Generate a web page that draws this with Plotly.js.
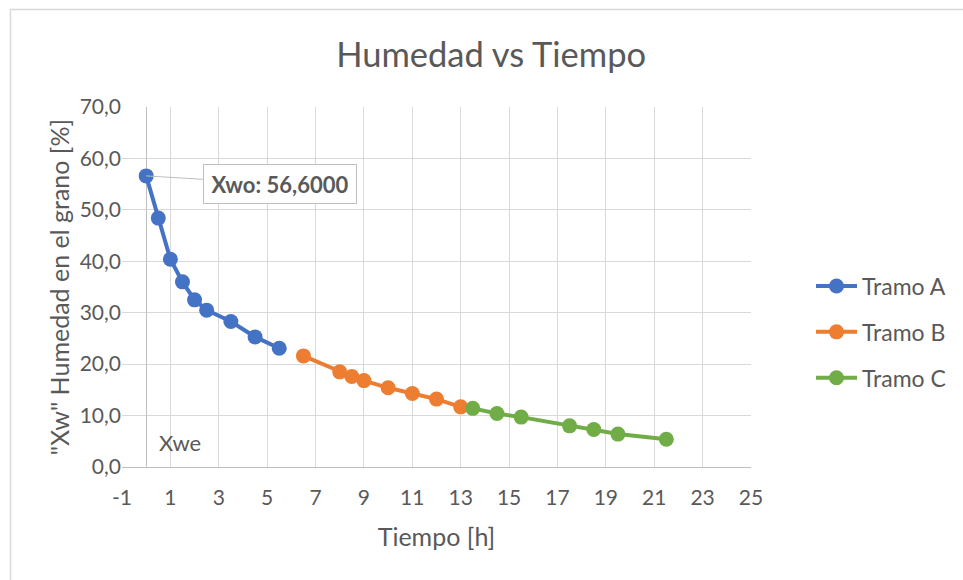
<!DOCTYPE html>
<html>
<head>
<meta charset="utf-8">
<script src="https://cdn.plot.ly/plotly-3.0.1.min.js"></script>
<style>
html,body{margin:0;padding:0;background:#fff;}
#chart{width:963px;height:580px;}
</style>
</head>
<body>
<div id="chart"></div>
<script>
// Data
const tramoA_x = [0, 0.5, 1, 1.5, 2, 2.5, 3.5, 4.5, 5.5];
const tramoA_y = [56.6, 48.4, 40.4, 36.0, 32.5, 30.5, 28.3, 25.3, 23.1];
const tramoB_x = [6.5, 8, 8.5, 9, 10, 11, 12, 13];
const tramoB_y = [21.6, 18.5, 17.6, 16.8, 15.4, 14.3, 13.2, 11.7];
const tramoC_x = [13.5, 14.5, 15.5, 17.5, 18.5, 19.5, 21.5];
const tramoC_y = [11.4, 10.4, 9.7, 8.0, 7.3, 6.4, 5.4];
const seriesNames = ["Tramo A", "Tramo B", "Tramo C"];
const xTickVals = [-1, 1, 3, 5, 7, 9, 11, 13, 15, 17, 19, 21, 23, 25];
const xTickText = ["-1", "1", "3", "5", "7", "9", "11", "13", "15", "17", "19", "21", "23", "25"];
const xwoLabel = "Xwo: 56,6000";
const xweLabel = "Xwe";

const colors = ["#4472C4", "#ED7D31", "#70AD47"];
const FONT = "Lato, 'Open Sans', sans-serif";
const TXT = "#595959";

function mk(x, y, i) {
  return {
    x: x, y: y, name: seriesNames[i], type: "scatter", mode: "lines+markers",
    legendgroup: "g" + i,
    line: {color: colors[i], width: 4},
    marker: {color: colors[i], size: 15},
    cliponaxis: false
  };
}

const data = [
  mk(tramoA_x, tramoA_y, 0),
  mk(tramoB_x, tramoB_y, 1),
  mk(tramoC_x, tramoC_y, 2)
];

const layout = {
  width: 963, height: 580,
  margin: {l: 122, r: 212, t: 107, b: 113},
  paper_bgcolor: "#fff", plot_bgcolor: "#fff",
  separators: ",.",
  font: {family: FONT, color: TXT},
  title: {
    text: "Humedad vs Tiempo",
    font: {family: FONT, size: 34.5, color: TXT},
    x: 0.51, xref: "container", xanchor: "center",
    y: 0.905, yref: "container", yanchor: "middle"
  },
  xaxis: {
    range: [-1, 25],
    tickvals: xTickVals, ticktext: xTickText,
    showgrid: true, gridcolor: "#d9d9d9", gridwidth: 1,
    zeroline: true, zerolinecolor: "#bfbfbf", zerolinewidth: 1,
    showline: false, ticks: "",
    ticklabelstandoff: 16,
    tickfont: {family: FONT, size: 21, color: TXT},
    title: {text: "Tiempo [h]", font: {family: FONT, size: 25, color: TXT}, standoff: 20},
    fixedrange: true
  },
  yaxis: {
    range: [0, 70], dtick: 10, tick0: 0,
    tickformat: ".1f",
    showgrid: true, gridcolor: "#d9d9d9", gridwidth: 1,
    zeroline: true, zerolinecolor: "#bfbfbf", zerolinewidth: 1,
    showline: false, ticks: "",
    tickfont: {family: FONT, size: 21, color: TXT},
    title: {text: "\"Xw\" Humedad en el grano [%]", font: {family: FONT, size: 25, color: TXT}, standoff: 2},
    fixedrange: true
  },
  legend: {
    x: (811 - 122) / 629, xanchor: "left", y: 0.375, yanchor: "middle",
    font: {family: FONT, size: 23, color: TXT},
    itemwidth: 41,
    tracegroupgap: 13,
    bgcolor: "rgba(0,0,0,0)"
  },
  annotations: [
    {
      x: 0, y: 56.6, xref: "x", yref: "y",
      text: "<b>" + xwoLabel + "</b>",
      showarrow: true, arrowhead: 0, arrowwidth: 1, arrowcolor: "#bfbfbf",
      ax: 134, ay: 8, standoff: 0,
      font: {family: FONT, size: 22, color: TXT},
      bgcolor: "#fff", bordercolor: "#bfbfbf", borderwidth: 1, borderpad: 2,
      width: 148, height: 34
    },
    {
      x: 1.38, y: 4.7, xref: "x", yref: "y",
      text: xweLabel, showarrow: false,
      font: {family: FONT, size: 22, color: TXT},
      xanchor: "center", yanchor: "middle"
    }
  ],
  shapes: [
    {
      type: "rect", xref: "paper", yref: "paper",
      x0: (10.5 - 122) / 629, x1: (975 - 122) / 629,
      y0: (467 - 600) / 360, y1: (467 - 9.5) / 360,
      line: {color: "#d9d9d9", width: 1.5}, fillcolor: "rgba(0,0,0,0)", layer: "below"
    }
  ]
};

Plotly.newPlot("chart", data, layout, {displayModeBar: false, staticPlot: true});
</script>
</body>
</html>
